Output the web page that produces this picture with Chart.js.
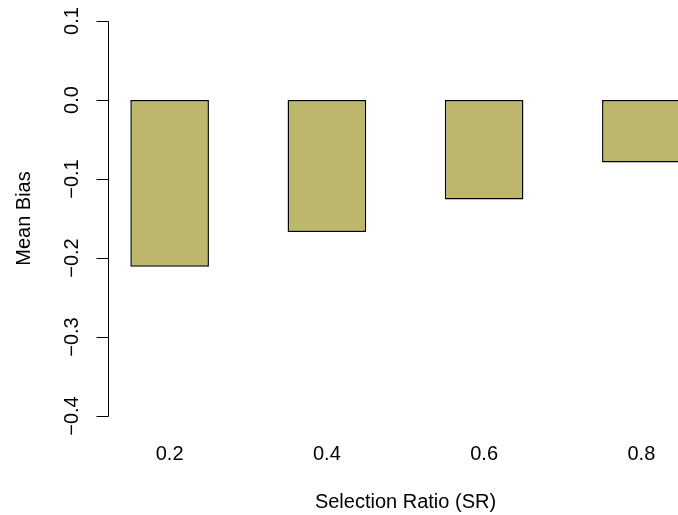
<!DOCTYPE html>
<html>
<head>
<meta charset="utf-8">
<script src="https://cdn.jsdelivr.net/npm/chart.js@4/dist/chart.umd.min.js"></script>
<style>
  html, body { margin: 0; padding: 0; background: #ffffff; overflow: hidden; width: 678px; height: 515px; }
  #wrap { position: absolute; left: 0; top: 0; width: 760px; height: 515px; }
</style>
</head>
<body>
<div id="wrap"><canvas id="chart" width="760" height="515"></canvas></div>
<script>
// Selection ratios and the mean bias observed at each one
const selectionRatios = ['0.2', '0.4', '0.6', '0.8'];
const meanBias = [-0.211, -0.167, -0.126, -0.079];

// Y axis tick values and their printed labels
const yTickValues = [-0.4, -0.3, -0.2, -0.1, 0.0, 0.1];
const yTickLabels = ['\u22120.4', '\u22120.3', '\u22120.2', '\u22120.1', '0.0', '0.1'];

const yAxisTitle = 'Mean Bias';
const xAxisTitle = 'Selection Ratio (SR)';

const FONT = '"Liberation Sans", Arial, Helvetica, sans-serif';
const FONT_SIZE = 20;

// Draws an R-style left axis: a line spanning the tick range, outward ticks,
// labels running parallel to the axis, and the rotated axis title.
const rAxisPlugin = {
  id: 'rAxis',
  afterDraw(chart) {
    const { ctx, chartArea } = chart;
    const y = chart.scales.y;
    const axisX = Math.round(chartArea.left + 17) + 0.5;
    const tickLen = 12;
    ctx.save();
    ctx.strokeStyle = '#000000';
    ctx.lineWidth = 1;
    const yTop = Math.round(y.getPixelForValue(yTickValues[yTickValues.length - 1])) + 0.5;
    const yBot = Math.round(y.getPixelForValue(yTickValues[0])) + 0.5;
    ctx.beginPath();
    ctx.moveTo(axisX, yTop);
    ctx.lineTo(axisX, yBot);
    yTickValues.forEach(v => {
      const py = Math.round(y.getPixelForValue(v)) + 0.5;
      ctx.moveTo(axisX, py);
      ctx.lineTo(axisX - tickLen, py);
    });
    ctx.stroke();

    ctx.fillStyle = '#000000';
    ctx.font = FONT_SIZE + 'px ' + FONT;
    ctx.textAlign = 'center';
    ctx.textBaseline = 'middle';
    yTickValues.forEach((v, i) => {
      const py = y.getPixelForValue(v);
      ctx.save();
      ctx.translate(axisX - 36, py);
      ctx.rotate(-Math.PI / 2);
      ctx.fillText(yTickLabels[i], 0, 0);
      ctx.restore();
    });

    const midY = (y.getPixelForValue(yTickValues[0]) + y.getPixelForValue(yTickValues[yTickValues.length - 1])) / 2;
    ctx.save();
    ctx.translate(24, midY);
    ctx.rotate(-Math.PI / 2);
    ctx.fillText(yAxisTitle, 0, 0);
    ctx.restore();
    ctx.restore();
  }
};

new Chart(document.getElementById('chart'), {
  type: 'bar',
  data: {
    labels: selectionRatios,
    datasets: [{
      data: meanBias,
      backgroundColor: '#BDB76B',
      borderColor: '#000000',
      borderWidth: 1.5,
      borderSkipped: false,
      barPercentage: 0.5,
      categoryPercentage: 1.0
    }]
  },
  options: {
    responsive: false,
    animation: false,
    devicePixelRatio: 1,
    layout: { padding: { left: 91, right: 40, top: 21, bottom: 0 } },
    plugins: {
      legend: { display: false },
      tooltip: { enabled: false }
    },
    scales: {
      x: {
        offset: true,
        grid: { display: false, drawTicks: false },
        border: { display: false },
        ticks: {
          color: '#000000',
          font: { family: FONT, size: FONT_SIZE },
          padding: 26,
          maxRotation: 0,
          minRotation: 0
        },
        title: {
          display: true,
          text: xAxisTitle,
          color: '#000000',
          font: { family: FONT, size: FONT_SIZE },
          padding: { top: 0, bottom: 1 }
        },
        afterFit(scale) { scale.height = 99; }
      },
      y: {
        display: false,
        min: -0.4,
        max: 0.1
      }
    }
  },
  plugins: [rAxisPlugin]
});
</script>
</body>
</html>
